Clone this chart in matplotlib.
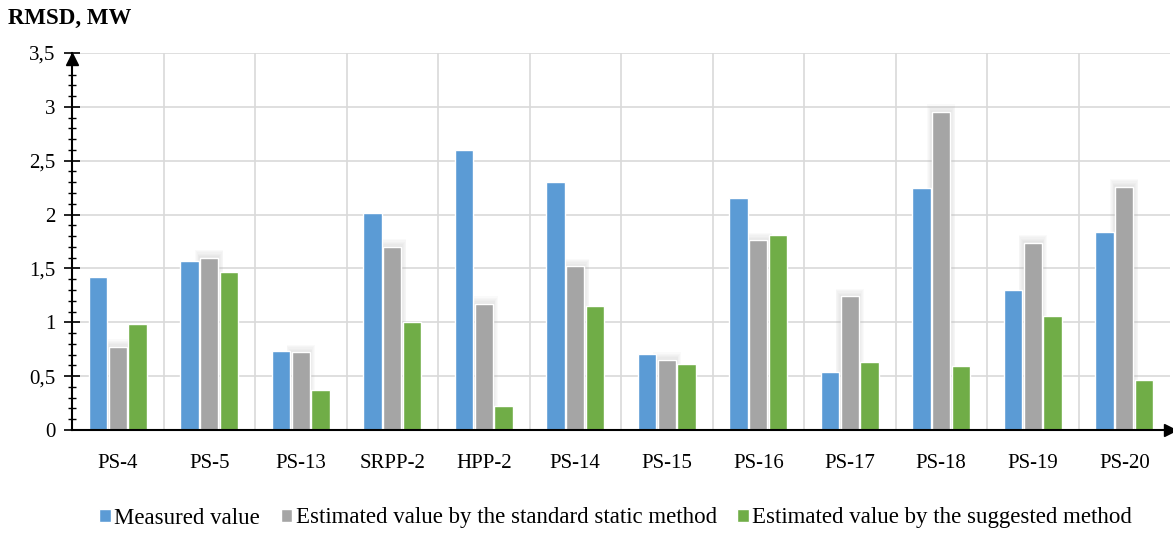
import numpy as np
import matplotlib.pyplot as plt
from matplotlib.ticker import MultipleLocator, FuncFormatter

stations = ['PS-4', 'PS-5', 'PS-13', 'SRPP-2', 'HPP-2', 'PS-14', 'PS-15',
            'PS-16', 'PS-17', 'PS-18', 'PS-19', 'PS-20']
measured = [1.42, 1.57, 0.73, 2.01, 2.60, 2.30, 0.71, 2.15, 0.54, 2.25, 1.30, 1.84]
standard = [0.77, 1.60, 0.72, 1.70, 1.17, 1.52, 0.65, 1.76, 1.24, 2.95, 1.74, 2.26]
suggested = [0.98, 1.47, 0.37, 1.00, 0.22, 1.15, 0.61, 1.81, 0.63, 0.59, 1.06, 0.46]
labels = ['Measured value', 'Estimated value by the standard static method',
          'Estimated value by the suggested method']
colors = ['#5B9BD5', '#A5A5A5', '#70AD47']

plt.rcParams['font.family'] = ['Liberation Serif', 'DejaVu Serif']

fig = plt.figure(figsize=(11.73, 5.35), dpi=100)
ax = fig.add_axes([72 / 1173, 105 / 535, 1098 / 1173, 377 / 535])

x = np.arange(len(stations))
w = 0.2
gap = 0.215

# soft glow behind grey bars
for k in range(6):
    ax.bar(x, np.array(standard) + 0.012 * (k + 1), w + 0.018 * (k + 1),
           color='#bdbdbd', alpha=0.07, linewidth=0, zorder=2)

series = [measured, standard, suggested]
for i, (vals, c, lab) in enumerate(zip(series, colors, labels)):
    ax.bar(x + (i - 1) * gap, vals, w, color=c, edgecolor='white',
           linewidth=1, label=lab, zorder=3)

ax.set_xlim(-0.5, len(stations) - 0.5)
ax.set_ylim(0, 3.5)
ax.set_xticks(x)
ax.set_xticklabels(stations, fontsize=15)
ax.tick_params(axis='x', length=0, pad=17)

ax.yaxis.set_major_locator(MultipleLocator(0.5))
ax.yaxis.set_minor_locator(MultipleLocator(0.1))
ax.yaxis.set_major_formatter(FuncFormatter(lambda v, p: ('%g' % v).replace('.', ',')))
ax.tick_params(axis='y', which='major', direction='inout', length=12, width=1.2, labelsize=15, pad=6)
ax.tick_params(axis='y', which='minor', direction='inout', length=6, width=1)

# grid
ax.set_axisbelow(True)
ax.yaxis.grid(True, which='major', color='#d9d9d9', linewidth=1.2)
for b in np.arange(0.5, len(stations) - 0.5, 1):
    ax.axvline(b, color='#d9d9d9', linewidth=1.2, zorder=0)

for s in ['top', 'right']:
    ax.spines[s].set_visible(False)
for s in ['left', 'bottom']:
    ax.spines[s].set_linewidth(1.5)
    ax.spines[s].set_zorder(5)

# arrows at axis ends
ax.plot(1, 0, '>k', transform=ax.transAxes, clip_on=False, markersize=8, zorder=6)
ax.plot(0, 0.985, '^k', transform=ax.transAxes, clip_on=False, markersize=8, zorder=6)

fig.text(8 / 1173, 1 - 18 / 535, 'RMSD, MW', fontsize=16.5, fontweight='bold', va='center')

fig.legend(loc='center', bbox_to_anchor=(0.525, 1 - 518 / 535), ncol=3, frameon=False,
           fontsize=16.5, handlelength=0.5, handleheight=0.5, handletextpad=0.15,
           columnspacing=0.9)

fig.savefig('out.png', dpi=100)
